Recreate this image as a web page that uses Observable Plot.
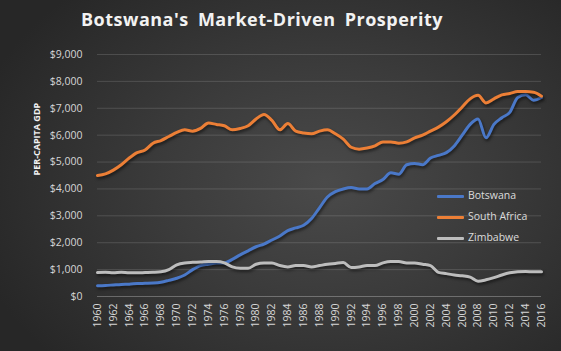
<!DOCTYPE html>
<html><head><meta charset="utf-8">
<script src="https://cdn.jsdelivr.net/npm/d3@7"></script>
<script src="https://cdn.jsdelivr.net/npm/@observablehq/plot@0.6"></script>
<style>
body{margin:0;background:#2a2a2a;}
#wrap{position:relative;width:561px;height:351px;overflow:hidden;
 background:radial-gradient(ellipse 65% 75% at 58% 52%, #4a4a4a 0%, #3b3b3b 45%, #272727 100%);
 font-family:"Open Sans",sans-serif;}
#title{position:absolute;left:0;top:7px;width:524px;text-align:center;color:#f2f2f2;
 font-weight:bold;font-size:18px;letter-spacing:0.5px;word-spacing:4px;white-space:nowrap;}
#chart{position:absolute;left:0;top:45px;}
#chart g[aria-label="line"] path{filter:drop-shadow(1px 2px 1.5px rgba(0,0,0,0.55));}
.leg{position:absolute;left:437px;height:14px;font-size:10.5px;color:#dcdcdc;white-space:nowrap;}
.leg span.sw{position:absolute;left:0;top:6px;width:27px;height:3px;border-radius:1px;}
.leg span.tx{position:absolute;left:31px;top:-1px;}
</style></head>
<body><div id="wrap"><div id="title">Botswana's Market-Driven Prosperity</div><div id="chart"></div></div>
<script>
const years = [1960,1961,1962,1963,1964,1965,1966,1967,1968,1969,1970,1971,1972,1973,1974,1975,1976,1977,1978,1979,1980,1981,1982,1983,1984,1985,1986,1987,1988,1989,1990,1991,1992,1993,1994,1995,1996,1997,1998,1999,2000,2001,2002,2003,2004,2005,2006,2007,2008,2009,2010,2011,2012,2013,2014,2015,2016];
const botswana = [400,410,430,450,460,480,490,500,530,600,680,800,1000,1150,1200,1250,1250,1380,1550,1700,1850,1950,2100,2250,2450,2550,2650,2900,3300,3700,3900,4000,4050,4000,4000,4200,4350,4600,4550,4900,4950,4900,5150,5250,5350,5600,6000,6400,6600,5900,6400,6650,6850,7400,7500,7300,7400];
const southAfrica = [4500,4560,4700,4900,5150,5350,5450,5700,5800,5950,6100,6200,6150,6250,6450,6400,6350,6200,6250,6350,6600,6770,6550,6200,6430,6150,6080,6050,6150,6200,6050,5850,5550,5480,5520,5600,5750,5750,5700,5750,5900,6000,6150,6300,6500,6750,7050,7350,7480,7200,7350,7500,7550,7620,7620,7600,7450];
const zimbabwe = [890,900,880,900,880,880,890,900,920,1000,1180,1250,1270,1280,1300,1300,1250,1100,1050,1050,1200,1250,1250,1150,1100,1150,1150,1100,1150,1200,1230,1260,1080,1100,1150,1150,1250,1300,1300,1250,1250,1200,1150,900,850,800,770,720,570,620,700,800,880,920,930,920,920];
const countries = ["Botswana","South Africa","Zimbabwe"];
const colors = ["#4a78c8","#ec7f36","#bdbdbd"];
const yTicks = [0,1000,2000,3000,4000,5000,6000,7000,8000,9000];
const xTickLabels = [1960,1962,1964,1966,1968,1970,1972,1974,1976,1978,1980,1982,1984,1986,1988,1990,1992,1994,1996,1998,2000,2002,2004,2006,2008,2010,2012,2014,2016];
const yLabel = "PER-CAPITA GDP";

const series = [botswana, southAfrica, zimbabwe];
const data = countries.flatMap((c, k) => years.map((yr, i) => ({country: c, year: yr, gdp: series[k][i]})));

const chart = Plot.plot({
  width: 561, height: 306,
  marginLeft: 97, marginRight: 20, marginTop: 9, marginBottom: 55,
  style: {background: "transparent", color: "#d6d6d6", fontFamily: "Open Sans, sans-serif", fontSize: "10px"},
  x: {domain: [1960, 2016], axis: null, label: null},
  y: {domain: [0, 9000], axis: null, label: null},
  color: {domain: countries, range: colors},
  marks: [
    Plot.ruleY(yTicks, {stroke: "#ffffff", strokeOpacity: d => d === 0 ? 0.28 : 0.14, strokeWidth: 1}),
    Plot.axisY(yTicks, {tickSize: 0, tickPadding: 15, tickFormat: d3.format("$,"), fill: "#d6d6d6", fontSize: 10.5, label: null}),
    Plot.axisX(xTickLabels, {tickSize: 0, tickPadding: 7, tickRotate: -90, tickFormat: d => String(d), fill: "#d6d6d6", fontSize: 10.5, label: null}),
    Plot.line(data, {x: "year", y: "gdp", stroke: "country", z: "country", strokeWidth: 3, curve: "monotone-x"}),
    Plot.text([yLabel], {text: d => d, frameAnchor: "left", dx: -60, rotate: -90, fill: "#f2f2f2", fontWeight: "bold", fontSize: 9})
  ]
});
document.getElementById("chart").appendChild(chart);

const wrap = document.getElementById("wrap");
const legTops = [189, 210, 231];
countries.forEach((c, i) => {
  const d = document.createElement("div");
  d.className = "leg";
  d.style.top = legTops[i] + "px";
  d.innerHTML = `<span class="sw" style="background:${colors[i]}"></span><span class="tx">${c}</span>`;
  wrap.appendChild(d);
});
</script></body></html>
